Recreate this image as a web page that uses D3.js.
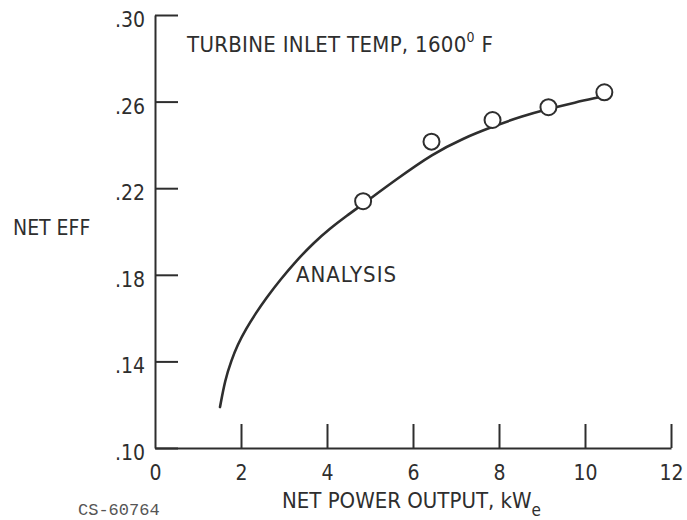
<!DOCTYPE html>
<html>
<head>
<meta charset="utf-8">
<script src="https://cdn.jsdelivr.net/npm/d3@7"></script>
<style>
  html, body { margin: 0; padding: 0; background: #fff; }
  svg { display: block; }
  .lbl { font-family: "Liberation Sans Narrow", "DejaVu Sans Condensed", "Roboto Condensed", "Liberation Sans", sans-serif; fill: #2e2e2e; }
</style>
</head>
<body>
<svg id="chart" width="687" height="520"></svg>
<script>
// ---- data ----
const xTicks = [0, 2, 4, 6, 8, 10, 12];
const yTicks = [0.10, 0.14, 0.18, 0.22, 0.26, 0.30];
const pointX = [4.84, 6.43, 7.85, 9.15, 10.45];
const pointY = [0.2140, 0.2415, 0.2515, 0.2574, 0.2643];
const curveX = [1.512, 1.628, 1.779, 1.919, 2.116, 2.349, 2.581, 2.907, 3.302, 3.674, 4.070, 4.465, 4.837, 5.605, 6.465, 7.163, 7.860, 8.512, 9.186, 9.767, 10.302];
const curveY = [0.1189, 0.1314, 0.1406, 0.1476, 0.1550, 0.1624, 0.1691, 0.1776, 0.1868, 0.1945, 0.2014, 0.2074, 0.2127, 0.2240, 0.2360, 0.2430, 0.2485, 0.2531, 0.2568, 0.2596, 0.2619];
const titleText = "TURBINE INLET TEMP, 1600";
const yLabel = "NET EFF";
const xLabel = "NET POWER OUTPUT, kW";
const curveLabel = "ANALYSIS";
const figId = "CS-60764";

const svg = d3.select("#chart");
const ink = "#2e2e2e";

const x = d3.scaleLinear().domain([0, 12]).range([155, 671]);
const y = d3.scaleLinear().domain([0.10, 0.30]).range([448, 15]);

const fmtY = d => d3.format(".2f")(d).replace(/^0/, "");

// y axis (ticks pointing inward/right, labels left)
const gy = svg.append("g")
  .attr("transform", `translate(${x(0)},0)`)
  .call(d3.axisLeft(y).tickValues(yTicks).tickFormat(fmtY).tickSizeInner(-23).tickSizeOuter(0).tickPadding(10));
gy.select(".domain").attr("stroke", ink).attr("stroke-width", 2);
gy.selectAll(".tick line").attr("stroke", ink).attr("stroke-width", 2);
gy.selectAll(".tick text").attr("class", "lbl").attr("font-size", 21).attr("fill", ink).attr("dy", "0.55em");

// x axis (ticks pointing up)
const gx = svg.append("g")
  .attr("transform", `translate(0,${y(0.10)})`)
  .call(d3.axisBottom(x).tickValues(xTicks).tickFormat(d3.format("d")).tickSizeInner(-24).tickSizeOuter(0).tickPadding(17));
gx.select(".domain").attr("stroke", ink).attr("stroke-width", 2);
gx.selectAll(".tick line").attr("stroke", ink).attr("stroke-width", 2)
  .attr("opacity", d => d === 0 ? 0 : 1);
gx.selectAll(".tick text").attr("class", "lbl").attr("font-size", 21).attr("fill", ink);
gx.attr("font-family", null); gy.attr("font-family", null);

// analysis curve
const line = d3.line().x(d => x(d[0])).y(d => y(d[1])).curve(d3.curveBasis);
svg.append("path")
  .datum(curveX.map((v, i) => [v, curveY[i]]))
  .attr("d", line)
  .attr("fill", "none")
  .attr("stroke", ink)
  .attr("stroke-width", 2.6)
  .attr("stroke-linecap", "round");

// test points
svg.append("g").selectAll("circle")
  .data(pointX.map((v, i) => [v, pointY[i]]))
  .join("circle")
  .attr("cx", d => x(d[0]))
  .attr("cy", d => y(d[1]))
  .attr("r", 8)
  .attr("fill", "#fff")
  .attr("stroke", ink)
  .attr("stroke-width", 2);

// title
const t = svg.append("text").attr("class", "lbl").attr("x", 187).attr("y", 52).attr("font-size", 22).attr("letter-spacing", 0.3);
t.append("tspan").text(titleText);
t.append("tspan").attr("font-size", 14).attr("dy", -10).text("0");
t.append("tspan").attr("dy", 10).text(" F");

// y label
svg.append("text").attr("class", "lbl").attr("x", 13).attr("y", 235).attr("font-size", 21).text(yLabel);

// curve label
svg.append("text").attr("class", "lbl").attr("x", 296).attr("y", 282).attr("font-size", 22).attr("letter-spacing", 1).text(curveLabel);

// x label
const xl = svg.append("text").attr("class", "lbl").attr("x", 282).attr("y", 508).attr("font-size", 22);
xl.append("tspan").text(xLabel);
xl.append("tspan").attr("font-size", 17).attr("dy", 8).text("e");

// figure id
svg.append("text").attr("x", 78).attr("y", 515)
  .attr("font-family", "'Liberation Mono', 'DejaVu Sans Mono', monospace")
  .attr("font-size", 17).attr("fill", "#555").text(figId);
</script>
</body>
</html>
